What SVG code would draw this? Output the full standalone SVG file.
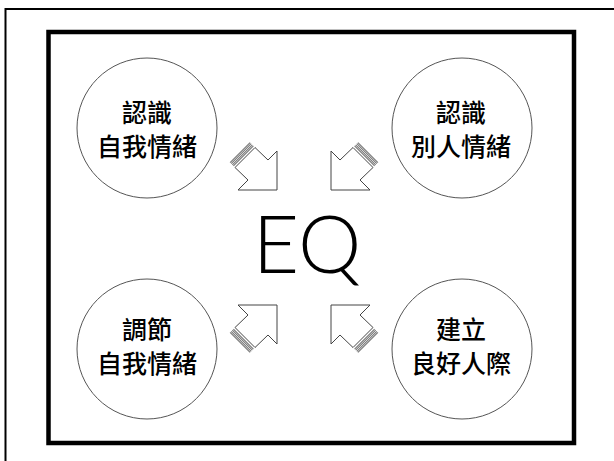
<svg xmlns="http://www.w3.org/2000/svg" xmlns:xlink="http://www.w3.org/1999/xlink" width="614" height="461" viewBox="0 0 614 461">
  <style>
    .frame{fill:none;stroke:#000}
    .node circle{fill:#fff;stroke:#555;stroke-width:1}
    .lbl{font-family:"Noto Sans CJK TC","Noto Sans CJK SC",sans-serif;font-weight:500;font-size:25px;fill:#000;text-anchor:middle}
    .eq{font-family:Lato,"Open Sans","Liberation Sans",sans-serif;font-weight:300;font-size:80px;fill:#000;text-anchor:middle}
    .arrow{fill:#fff;stroke:#444;stroke-width:1;stroke-linejoin:miter}
    .stripe{stroke:#777;stroke-width:1.1;fill:none}
  </style>
  <defs>
    <g id="arrowShape">
      <polygon class="arrow" points="255,147.5 268,160 277,151 277,190 238,190 248,180 235,167.5"/>
      <line class="stripe" x1="233.4" y1="165.9" x2="253.4" y2="145.9"/>
      <line class="stripe" x1="232.3" y1="164.8" x2="252.3" y2="144.8"/>
      <line class="stripe" x1="231.2" y1="163.7" x2="251.2" y2="143.7"/>
      <line class="stripe" x1="230.1" y1="162.6" x2="250.1" y2="142.6"/>
    </g>
  </defs>
  <rect width="614" height="461" fill="#fff"/>
  <rect class="frame" x="5.5" y="9" width="620" height="470" stroke-width="2"/>
  <rect class="frame" x="48.5" y="32" width="525.5" height="411" stroke-width="4.5"/>

  <g id="node-tl" class="node">
    <circle cx="147" cy="128" r="70"/>
    <text class="lbl" x="147" y="121.5">認識</text>
    <text class="lbl" x="147" y="155.5">自我情緒</text>
  </g>
  <g id="node-tr" class="node">
    <circle cx="462" cy="128" r="70"/>
    <text class="lbl" x="461" y="121.5">認識</text>
    <text class="lbl" x="461" y="155.5">別人情緒</text>
  </g>
  <g id="node-bl" class="node">
    <circle cx="147" cy="349" r="70"/>
    <text class="lbl" x="147" y="339">調節</text>
    <text class="lbl" x="147" y="373">自我情緒</text>
  </g>
  <g id="node-br" class="node">
    <circle cx="462" cy="349" r="70"/>
    <text class="lbl" x="461" y="339">建立</text>
    <text class="lbl" x="461" y="373">良好人際</text>
  </g>

  <g id="node-eq">
    <text class="eq" x="307" y="273">EQ</text>
  </g>

  <g id="connectors">
    <use xlink:href="#arrowShape"/>
    <use xlink:href="#arrowShape" transform="translate(608,0) scale(-1,1)"/>
    <use xlink:href="#arrowShape" transform="translate(0,495) scale(1,-1)"/>
    <use xlink:href="#arrowShape" transform="translate(608,495) scale(-1,-1)"/>
  </g>
</svg>
